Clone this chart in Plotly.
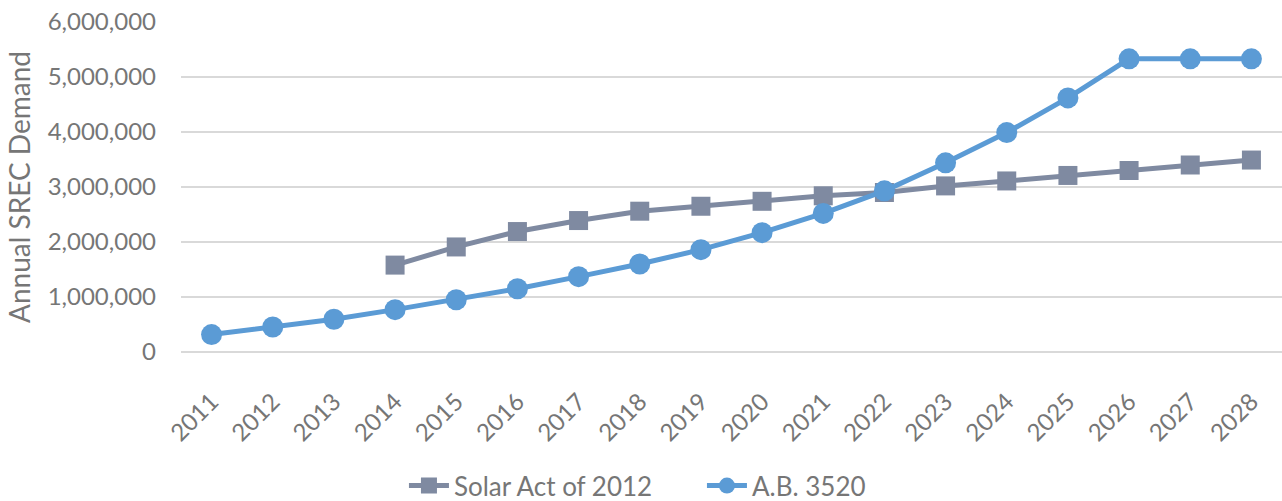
import plotly.graph_objects as go

years = [str(y) for y in range(2011, 2029)]
solar_act = [None, None, None, 1580000, 1910000, 2190000, 2390000, 2560000, 2650000,
             2740000, 2840000, 2900000, 3020000, 3110000, 3210000, 3300000, 3400000, 3490000]
ab3520 = [317000, 455000, 596000, 770000, 950000, 1150000, 1370000, 1600000, 1860000,
          2170000, 2520000, 2930000, 3440000, 3990000, 4620000, 5330000, 5330000, 5330000]
y_ticks = [0, 1000000, 2000000, 3000000, 4000000, 5000000, 6000000]

FONT = "Lato"
GRAY = "#767676"

fig = go.Figure()
fig.add_trace(go.Scatter(
    x=years, y=solar_act, name="Solar Act of 2012", mode="lines+markers",
    line=dict(color="#7F8AA1", width=5),
    marker=dict(symbol="square", size=19, color="#7F8AA1"),
    connectgaps=False,
))
fig.add_trace(go.Scatter(
    x=years, y=ab3520, name="A.B. 3520", mode="lines+markers",
    line=dict(color="#5B9BD5", width=5),
    marker=dict(symbol="circle", size=21, color="#5B9BD5"),
))

fig.update_layout(
    width=1282, height=501,
    margin=dict(l=181, r=0, t=22, b=149, autoexpand=False),
    paper_bgcolor="white", plot_bgcolor="white",
    font=dict(family=FONT, color=GRAY, size=24),
    showlegend=True,
    legend=dict(orientation="h", x=0.2025, xanchor="left", y=-0.405, yanchor="middle",
                font=dict(size=26, color=GRAY), traceorder="normal", itemwidth=40,
                entrywidth=243, entrywidthmode="pixels"),
    xaxis=dict(
        type="category", range=[-0.5, 17.5], tickangle=-45, automargin=False,
        showgrid=False, showline=False, ticks="", ticklabelstandoff=30,
        tickfont=dict(size=24, color=GRAY, family=FONT),
    ),
    yaxis=dict(
        range=[0, 6000000], tickvals=y_ticks, tickformat=",d", automargin=False,
        showgrid=True, gridcolor="#D9D9D9", gridwidth=1.5,
        zeroline=True, zerolinecolor="#D9D9D9", zerolinewidth=1.5,
        showline=False, ticks="", ticklabelstandoff=24,
        tickfont=dict(size=24, color=GRAY, family=FONT),
        title=dict(text="Annual SREC Demand", font=dict(size=28, color=GRAY, family=FONT), standoff=8),
    ),
)

fig.write_html("out.html", config={"displayModeBar": False},
               post_script="document.body.style.margin='0';")
